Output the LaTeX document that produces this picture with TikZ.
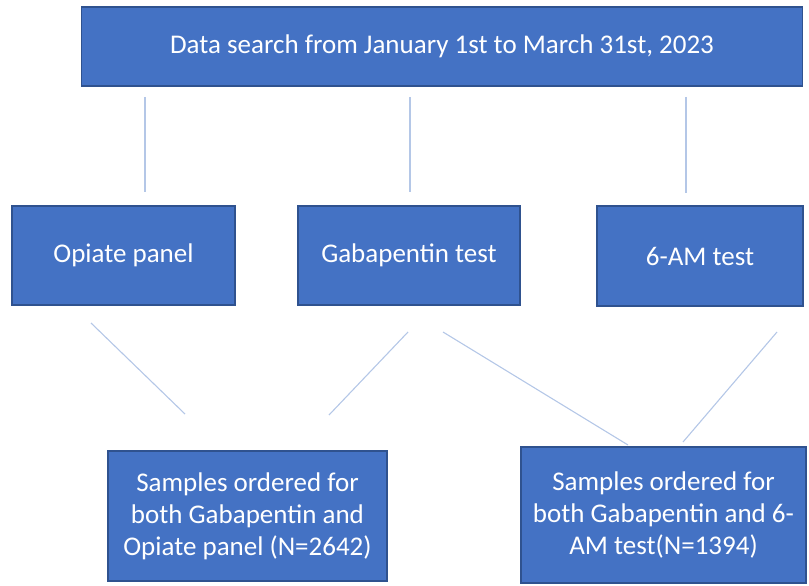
\documentclass[tikz,border=0pt]{standalone}
\usepackage{fontspec}
\setmainfont{Carlito}
\begin{document}
\begin{tikzpicture}[x=1pt,y=-1pt,
  box/.style={draw=boxedge,fill=boxfill,line width=1.2pt,text=white,
    font=\fontsize{27}{32}\selectfont,align=center,inner sep=0pt},
  link/.style={draw=linkblue,line width=1.1pt}]
\definecolor{boxfill}{HTML}{4472C4}
\definecolor{boxedge}{HTML}{2F528F}
\definecolor{linkblue}{HTML}{B4C7E7}
\useasboundingbox (0,0) rectangle (809,586);
% boxes, placed by centre and size
\node[box,minimum width=721pt,minimum height=79pt] (search) at (442,46.5) {Data search from January 1st to March 31st, 2023};
\node[box,minimum width=223pt,minimum height=99pt] (opiate) at (123.5,255.5) {Opiate panel};
\node[box,minimum width=222pt,minimum height=99pt] (gaba) at (409,255.5) {Gabapentin test};
\node[box,minimum width=206pt,minimum height=100pt] (sixam) at (700,256) {6-AM test};
\node[box,minimum width=279pt,minimum height=130pt] (bothop) at (247.5,516) {Samples ordered for\\both Gabapentin and\\Opiate panel (N=2642)};
\node[box,minimum width=285pt,minimum height=136pt] (both6) at (663.5,515) {Samples ordered for\\both Gabapentin and 6-\\AM test(N=1394)};
% connector end points (the links stop short of the boxes)
\coordinate (s1) at (145,97);  \coordinate (o1) at (145,192);
\coordinate (s2) at (410,97);  \coordinate (g1) at (410,192);
\coordinate (s3) at (686,97);  \coordinate (a1) at (686,193);
\coordinate (o2) at (91,323);  \coordinate (p1) at (185,414);
\coordinate (g2) at (408,332); \coordinate (p2) at (329,415);
\coordinate (g3) at (443,332); \coordinate (q1) at (628,445);
\coordinate (a2) at (777,332); \coordinate (q2) at (683,442);
\draw[link] (s1) -- (o1);
\draw[link] (s2) -- (g1);
\draw[link] (s3) -- (a1);
\draw[link] (o2) -- (p1);
\draw[link] (g2) -- (p2);
\draw[link] (g3) -- (q1);
\draw[link] (a2) -- (q2);
\end{tikzpicture}
\end{document}
